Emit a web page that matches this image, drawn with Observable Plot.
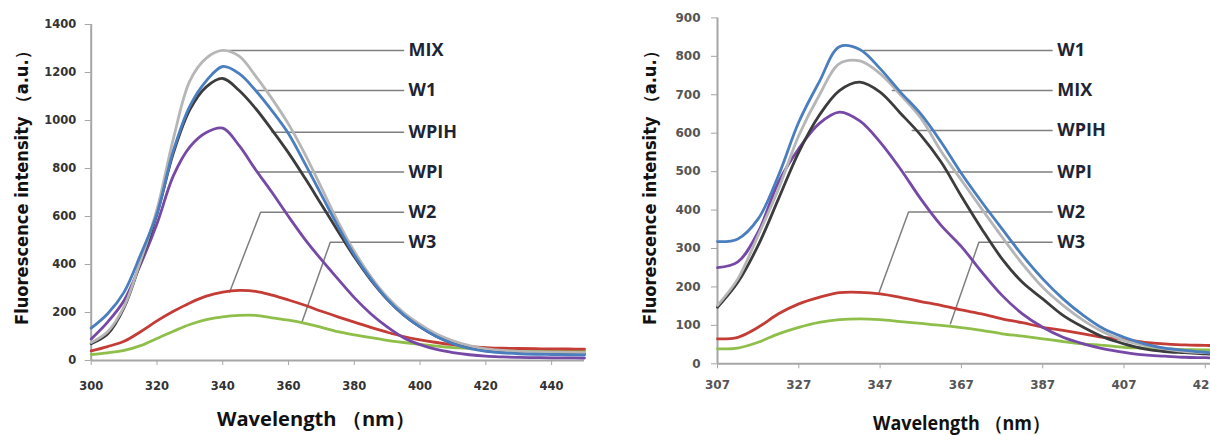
<!DOCTYPE html>
<html><head><meta charset="utf-8">
<script src="https://cdn.jsdelivr.net/npm/d3@7"></script>
<script src="https://cdn.jsdelivr.net/npm/@observablehq/plot@0.6"></script>
<style>
html,body{margin:0;padding:0;background:#fff;overflow:hidden;width:1210px;height:435px}
#wrap{position:relative;width:1210px;height:435px;overflow:hidden;background:#fff}
#left,#right{position:absolute;top:0}
#left{left:0}
#right{left:600px}
</style></head>
<body><div id="wrap"><div id="left"></div><div id="right"></div></div>
<script>
// ---------- data ----------
const seriesNames = ["MIX", "W1", "WPIH", "WPI", "W2", "W3"];
const seriesColors = ["#b6b6b6", "#4a7ebf", "#3c3c3c", "#7649a6", "#c43c36", "#8fbf4a"];
const drawOrder = ["W3", "W2", "WPI", "WPIH", "MIX", "W1"];

// left panel
const leftNm = [300,305,310,315,320,325,330,335,340,345,350,355,360,365,370,375,380,385,390,395,400,405,410,415,420,425,430,435,440,445,450];
const leftMIX  = [75,120,225,415,630,925,1165,1260,1292,1268,1185,1090,985,860,720,580,455,350,265,200,150,110,82,62,48,42,38,36,35,34,33];
const leftW1   = [135,195,285,440,612,875,1060,1165,1225,1195,1125,1040,945,820,690,560,440,340,255,190,140,100,70,50,38,32,28,26,25,24,23];
const leftWPIH = [70,110,220,410,610,865,1045,1140,1175,1125,1050,960,865,760,650,540,432,336,255,190,140,100,72,55,42,36,33,31,30,29,28];
const leftWPI  = [90,160,250,400,570,770,890,950,968,895,795,700,600,505,420,340,262,195,140,95,66,46,33,24,18,15,13,12,11,11,10];
const leftW2   = [40,58,80,120,165,205,240,268,285,292,288,272,252,230,205,182,160,138,118,100,86,75,66,59,54,51,50,49,48,48,47];
const leftW3   = [25,32,42,62,92,122,150,170,182,188,188,178,168,155,138,120,107,95,84,75,67,60,54,50,46,44,42,41,40,40,39];
const leftXTicks = [300,320,340,360,380,400,420,440];
const leftYTicks = [0,200,400,600,800,1000,1200,1400];
const leftLabels  = ["MIX","W1","WPIH","WPI","W2","W3"];
const leftLabelY  = [1292,1125,951,785,618,493];
const leftAnchorX = [341.8,350.5,355,350.4,342.1,364.1];
const leftAnchorY = [1292,1125,951,785,285,160];
const leftElbowX  = [341.8,350.5,355,350.4,351.5,372.7];
const leftLeaderEnd = 395;
const leftLabelX = 396.5;

// right panel
const rightNm = [307,312,317,322,327,332,337,342,347,352,357,362,367,372,377,382,387,392,397,402,407,412,417,422,427,430];
const rightW1   = [318,325,377,490,629,733,825,818,768,707,650,577,495,421,351,282,221,169,126,91,69,52,41,35,30,28];
const rightMIX  = [152,221,334,455,594,698,781,788,755,700,640,553,478,403,330,260,199,152,113,82,61,48,39,32,29,28];
const rightWPIH = [147,212,308,429,551,646,711,733,707,652,595,525,436,351,273,212,169,126,95,69,52,39,32,29,26,25];
const rightWPI  = [250,265,343,473,560,625,655,632,577,507,429,360,305,239,178,130,95,69,52,39,30,23,20,17,16,15];
const rightW2   = [65,69,95,130,156,173,185,186,182,173,162,152,140,130,117,107,95,87,78,69,63,56,52,49,48,47];
const rightW3   = [39,41,56,78,95,108,115,117,115,110,105,100,94,87,78,72,65,58,52,48,43,41,39,37,36,36];
const rightXTicks = [307,327,347,367,387,407,427];
const rightYTicks = [0,100,200,300,400,500,600,700,800,900];
const rightLabels  = ["W1","MIX","WPIH","WPI","W2","W3"];
const rightLabelY  = [815,711,607,499,395,316];
const rightAnchorX = [343,350,354.9,353.2,346.7,364.3];
const rightAnchorY = [815,711,607,499,184,104];
const rightElbowX  = [343,350,354.9,353.2,354,371.3];
const rightLeaderEnd = 389.3;
const rightLabelX = 390.6;

const yTitle = "Fluorescence intensity （a.u.）";
const xTitle = "Wavelength （nm）";

// ---------- build ----------
function tidy(nm, valuesBySeries) {
  const rows = [];
  drawOrder.forEach(s => {
    const vals = valuesBySeries[s];
    nm.forEach((x, j) => rows.push({s, nm: x, v: vals[j]}));
  });
  return rows;
}
function leaders(labels, anchorX, anchorY, elbowX, labelY, endNm) {
  return labels.flatMap((k, i) => [
    {k, nm: anchorX[i], v: anchorY[i]},
    {k, nm: elbowX[i], v: labelY[i]},
    {k, nm: endNm, v: labelY[i]}
  ]);
}

function panel(cfg) {
  const p = Plot.plot({
    width: cfg.width, height: 435,
    marginLeft: cfg.ml, marginRight: cfg.mr, marginTop: cfg.mt, marginBottom: cfg.mb,
    style: {background: "transparent", overflow: "visible", maxWidth: "none"},
    x: {domain: cfg.xDomain},
    y: {domain: cfg.yDomain},
    color: {domain: seriesNames, range: seriesColors},
    marks: [
      Plot.axisY({ticks: cfg.yTicks, tickSize: 6, tickPadding: cfg.yPad, stroke: "#a6a6a6", fill: cfg.tickFill,
        fontSize: cfg.tickFont, fontWeight: "bold", fontFamily: "DejaVu Sans", label: null, tickFormat: d => String(d)}),
      Plot.axisX({ticks: cfg.xTicks, tickSize: 5, tickPadding: cfg.xPad, stroke: "#a6a6a6", fill: cfg.tickFill,
        fontSize: cfg.tickFont, fontWeight: "bold", fontFamily: "DejaVu Sans", label: null, tickFormat: d => String(d)}),
      Plot.ruleY([cfg.yDomain[0]], {stroke: "#a6a6a6", strokeWidth: 2}),
      Plot.ruleX([cfg.xDomain[0]], {stroke: "#a6a6a6", strokeWidth: 2}),
      Plot.line(cfg.leaderRows, {x: "nm", y: "v", z: "k", stroke: "#7f7f7f", strokeWidth: 1.5}),
      Plot.line(cfg.rows, {x: "nm", y: "v", z: "s", stroke: "s", strokeWidth: 2.8, curve: "catmull-rom"}),
      Plot.text(cfg.labels, {x: () => cfg.labelX, y: (d, i) => cfg.labelY[i], text: d => d, textAnchor: "start",
        fontSize: 18, fontWeight: "bold", fontFamily: "Open Sans", fill: "#1d2535"})
    ]
  });
  const svg = d3.select(p);
  svg.append("text")
    .attr("transform", `translate(${cfg.yTitleX},184) rotate(-90)`)
    .attr("text-anchor", "middle").attr("dominant-baseline", "central")
    .attr("font-family", "DejaVu Sans").attr("font-weight", "bold").attr("font-size", 17)
    .attr("fill", "#111").attr("textLength", 282).attr("lengthAdjust", "spacingAndGlyphs")
    .text(yTitle);
  svg.append("text")
    .attr("x", cfg.xTitleX).attr("y", cfg.xTitleY)
    .attr("text-anchor", "middle").attr("dominant-baseline", "central")
    .attr("font-family", "Open Sans").attr("font-weight", "bold").attr("font-size", cfg.xTitleSize)
    .attr("fill", "#111").attr("textLength", cfg.xTitleLen).attr("lengthAdjust", "spacingAndGlyphs")
    .text(xTitle);
  return p;
}

const left = panel({
  width: 600, ml: 90.7, mr: 16, mt: 24, mb: 75,
  xDomain: [300, 450], yDomain: [0, 1400], xTicks: leftXTicks, yTicks: leftYTicks,
  yPad: 9, xPad: 16, tickFill: "#333", tickFont: 11.5,
  rows: tidy(leftNm, {MIX: leftMIX, W1: leftW1, WPIH: leftWPIH, WPI: leftWPI, W2: leftW2, W3: leftW3}),
  leaderRows: leaders(leftLabels, leftAnchorX, leftAnchorY, leftElbowX, leftLabelY, leftLeaderEnd),
  labels: leftLabels, labelY: leftLabelY, labelX: leftLabelX,
  yTitleX: 22, xTitleX: 316, xTitleY: 418, xTitleSize: 20, xTitleLen: 198
});
const right = panel({
  width: 620, ml: 117, mr: 3, mt: 17.4, mb: 71.7,
  xDomain: [307, 430], yDomain: [0, 900], xTicks: rightXTicks, yTicks: rightYTicks,
  yPad: 11, xPad: 12, tickFill: "#555", tickFont: 12,
  rows: tidy(rightNm, {MIX: rightMIX, W1: rightW1, WPIH: rightWPIH, WPI: rightWPI, W2: rightW2, W3: rightW3}),
  leaderRows: leaders(rightLabels, rightAnchorX, rightAnchorY, rightElbowX, rightLabelY, rightLeaderEnd),
  labels: rightLabels, labelY: rightLabelY, labelX: rightLabelX,
  yTitleX: 50, xTitleX: 361.5, xTitleY: 423, xTitleSize: 19, xTitleLen: 177
});
document.getElementById("left").appendChild(left);
document.getElementById("right").appendChild(right);
</script>
</body></html>
